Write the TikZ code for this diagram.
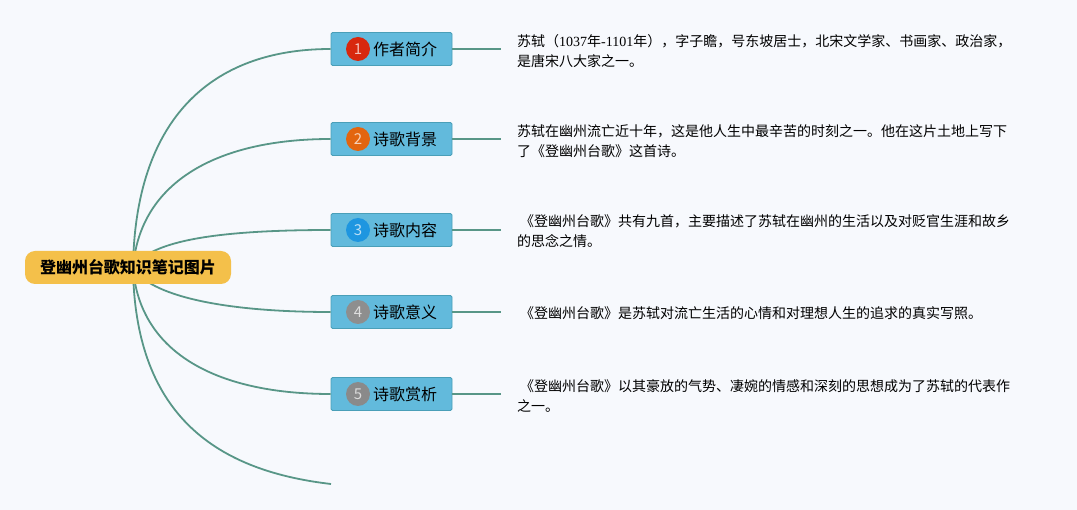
\documentclass[tikz,border=0pt]{standalone}
\usepackage{fontspec}
\setmainfont{Noto Sans CJK SC}
\newfontfamily\cjk{Noto Sans CJK SC}
\newfontfamily\lat{Liberation Serif}
\definecolor{bgc}{RGB}{247,249,253}
\definecolor{rootc}{RGB}{244,192,74}
\definecolor{linec}{RGB}{88,150,135}
\definecolor{branchc}{RGB}{98,186,220}
\definecolor{branchb}{RGB}{74,159,184}
\definecolor{bA}{RGB}{216,40,14}
\definecolor{bB}{RGB}{227,101,15}
\definecolor{bC}{RGB}{30,150,224}
\definecolor{bD}{RGB}{142,142,142}
\definecolor{bE}{RGB}{138,138,138}
\begin{document}
\begin{tikzpicture}[x=1pt,y=-1pt,
  conn/.style={draw=linec,line width=1.8pt},
  rootbox/.style={fill=rootc,rounded corners=10pt,minimum width=206pt,minimum height=33pt,inner sep=0pt,font=\cjk\fontsize{16}{20}\selectfont\bfseries},
  branchbox/.style={fill=branchc,draw=branchb,line width=0.8pt,rounded corners=1.5pt,minimum width=121pt,minimum height=33pt,inner sep=0pt,font=\cjk\fontsize{16}{19}\selectfont},
  badge/.style={circle,minimum size=24pt,inner sep=0pt,text=white,text opacity=0.7,font=\fontsize{15}{15}\selectfont},
  desc/.style={anchor=west,inner sep=0pt,align=left,font=\cjk\fontsize{14}{20}\selectfont},
  hline/.style={draw=linec,line width=1.6pt,shorten >=16pt}
]
\fill[bgc] (0,0) rectangle (1077,510);
\useasboundingbox (0,0) rectangle (1077,510);

% coordinate for root center and free end
\coordinate (rc) at (133,268);
\coordinate (free) at (331,484);

% branches
\node[branchbox] (b1) at (391.5,49) {\hspace*{27pt}作者简介};
\node[branchbox] (b2) at (391.5,139) {\hspace*{27pt}诗歌背景};
\node[branchbox] (b3) at (391.5,230) {\hspace*{27pt}诗歌内容};
\node[branchbox] (b4) at (391.5,312) {\hspace*{27pt}诗歌意义};
\node[branchbox] (b5) at (391.5,394) {\hspace*{27pt}诗歌赏析};

% curves from root
\draw[conn] (rc) .. controls (135,120) and (210,49) .. (b1.west);
\draw[conn] (rc) .. controls (140,180) and (220,139) .. (b2.west);
\draw[conn] (rc) .. controls (150,240) and (220,230) .. (b3.west);
\draw[conn] (rc) .. controls (150,295) and (220,312) .. (b4.west);
\draw[conn] (rc) .. controls (140,355) and (220,394) .. (b5.west);
\draw[conn] (rc) .. controls (135,410) and (210,470) .. (free);

\node[rootbox] (root) at (128,267.5) {登幽州台歌知识笔记图片};

% badges
\node[badge,fill=bA] (n1) at (358,49) {1};
\node[badge,fill=bB] (n2) at (358,139) {2};
\node[badge,fill=bC] (n3) at (358,230) {3};
\node[badge,fill=bD] (n4) at (358,312) {4};
\node[badge,fill=bE] (n5) at (358,394) {5};

% descriptions
\node[desc] (d1) at (517,51.5) {苏轼（{\lat 1037}年{\lat -1101}年），字子瞻，号东坡居士，北宋文学家、书画家、政治家，\\是唐宋八大家之一。};
\node[desc] (d2) at (517,141) {苏轼在幽州流亡近十年，这是他人生中最辛苦的时刻之一。他在这片土地上写下\\了《登幽州台歌》这首诗。};
\node[desc] (d3) at (517,231) {\hspace*{3pt}《登幽州台歌》共有九首，主要描述了苏轼在幽州的生活以及对贬官生涯和故乡\\的思念之情。};
\node[desc] (d4) at (517,313) {\hspace*{3pt}《登幽州台歌》是苏轼对流亡生活的心情和对理想人生的追求的真实写照。};
\node[desc] (d5) at (517,396) {\hspace*{3pt}《登幽州台歌》以其豪放的气势、凄婉的情感和深刻的思想成为了苏轼的代表作\\之一。};

% horizontal connectors
\draw[hline] (b1.east) -- (b1.east -| d1.west);
\draw[hline] (b2.east) -- (b2.east -| d2.west);
\draw[hline] (b3.east) -- (b3.east -| d3.west);
\draw[hline] (b4.east) -- (b4.east -| d4.west);
\draw[hline] (b5.east) -- (b5.east -| d5.west);
\end{tikzpicture}
\end{document}
